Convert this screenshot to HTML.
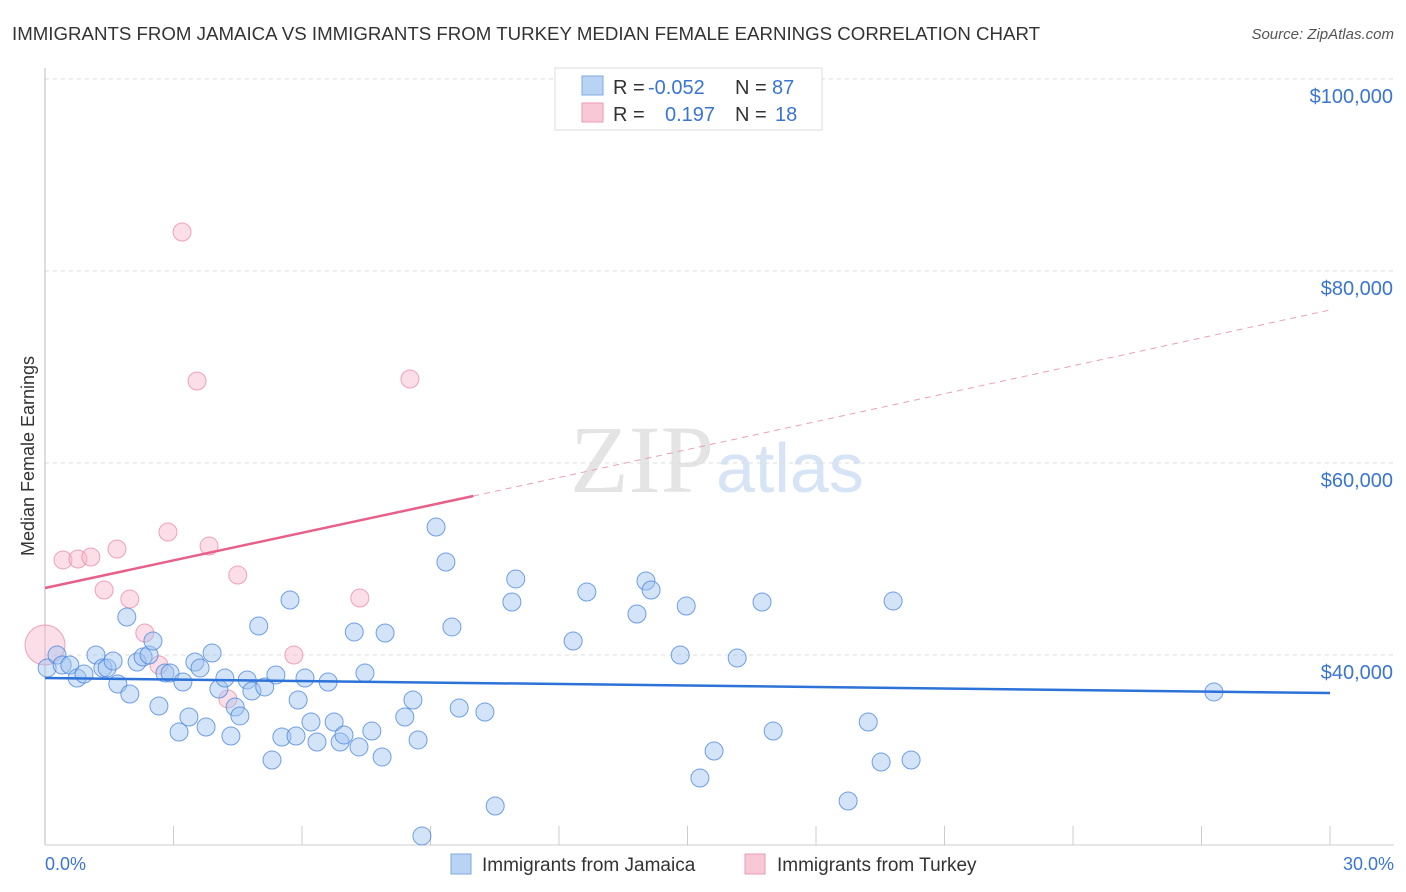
<!DOCTYPE html>
<html><head><meta charset="utf-8"><style>
body{margin:0;background:#fff;font-family:"Liberation Sans",sans-serif}
svg{display:block}
</style></head><body>
<svg id="c" width="1406" height="892" xmlns="http://www.w3.org/2000/svg">
<text x="12" y="40" font-size="18" fill="#333" textLength="1028" lengthAdjust="spacingAndGlyphs">IMMIGRANTS FROM JAMAICA VS IMMIGRANTS FROM TURKEY MEDIAN FEMALE EARNINGS CORRELATION CHART</text>
<text x="1394" y="39" font-size="15" fill="#555" font-style="italic" text-anchor="end">Source: ZipAtlas.com</text>
<text x="714" y="492" font-size="96" fill="#e4e4e4" text-anchor="end" font-family="Liberation Serif,serif">ZIP</text>
<text x="716" y="492" font-size="70" fill="#d6e4f5">atlas</text>
<g id="grid"></g>
<line x1="45" y1="68" x2="45" y2="845" stroke="#bbb"/>
<line x1="45" y1="845" x2="1394" y2="845" stroke="#ccc"/>
<text x="34" y="456" font-size="18" fill="#333" transform="rotate(-90 34 456)" text-anchor="middle">Median Female Earnings</text>
<text x="45" y="870" font-size="18" fill="#3a75d0">0.0%</text>
<text x="1394" y="870" font-size="18" fill="#3a75d0" text-anchor="end">30.0%</text>
<g id="pts"></g>
<g id="trend"></g>
<g>
<rect x="555" y="68" width="267" height="62" fill="#fff" stroke="#ddd"/>
<rect x="582" y="76" width="21" height="19" fill="#b9d3f5" stroke="#7fa8e0"/>
<rect x="582" y="103" width="21" height="19" fill="#f9c8d6" stroke="#eb9ab2"/>
<text y="94" font-size="20" fill="#333"><tspan x="613">R = </tspan><tspan x="648" fill="#3a75d0">-0.052</tspan><tspan x="735">N = </tspan><tspan x="772" fill="#3a75d0">87</tspan></text>
<text y="121" font-size="20" fill="#333"><tspan x="613">R = </tspan><tspan x="665" fill="#3a75d0">0.197</tspan><tspan x="735">N = </tspan><tspan x="775" fill="#3a75d0">18</tspan></text>
</g>
<g>
<rect x="451" y="854" width="20" height="20" fill="#b9d3f5" stroke="#7fa8e0"/>
<text x="482" y="871" font-size="19" fill="#333">Immigrants from Jamaica</text>
<rect x="745" y="854" width="20" height="20" fill="#f9c8d6" stroke="#eb9ab2"/>
<text x="777" y="871" font-size="19" fill="#333">Immigrants from Turkey</text>
</g>
</svg>
<script>
const yTicks=[40000,60000,80000,100000];
const yTickLabels=["$40,000","$60,000","$80,000","$100,000"];
const jamaicaX=[0.05,0.28,0.4,0.58,0.75,0.91,1.19,1.35,1.45,1.59,1.7,1.91,1.98,2.15,2.29,2.43,2.52,2.66,2.8,2.92,3.13,3.22,3.36,3.5,3.62,3.76,3.9,4.06,4.2,4.34,4.44,4.55,4.72,4.83,4.99,5.13,5.3,5.39,5.53,5.72,5.86,5.91,6.07,6.21,6.35,6.61,6.75,6.89,6.98,7.22,7.33,7.47,7.63,7.87,7.94,8.4,8.59,8.71,8.8,9.13,9.36,9.5,9.67,10.27,10.51,10.9,10.99,12.33,12.65,13.82,14.03,14.15,14.83,14.97,15.29,15.62,16.16,16.74,17.0,18.75,19.22,19.52,19.8,20.22,27.29];
const jamaicaY=[38650,40000,38960,38960,37600,38020,40000,38650,38650,39380,36980,43960,35940,39270,39790,40000,41460,34690,38130,38130,31980,37190,33540,39270,38650,32500,40210,36460,37600,31560,34580,33650,37400,36250,43020,36670,29060,37920,31460,45730,31560,35310,37600,33020,30940,37190,33020,30940,31670,42400,30420,38130,32080,29380,42290,33540,35310,31150,21150,53330,49690,42920,34480,34060,24270,45520,47920,41460,46560,44270,47710,46770,40000,45100,27190,30000,39690,45520,32080,24790,33020,28850,45620,29060,36150];
const turkeyX=[0,0.42,0.77,1.07,1.38,1.68,1.98,2.33,2.66,2.87,3.2,3.55,3.83,4.27,4.5,5.81,7.35,8.52];
const turkeyY=[41040,49900,50000,50210,46770,51040,45830,42290,38960,52810,84060,68540,51350,35420,48330,40000,45940,68750];
const jamTrend=[0,37600,30,36040];
const turTrend=[0,46980,10,56560,30,75940];
const NS="http://www.w3.org/2000/svg";
const X=v=>45+v*1285/30, Y=v=>655-(v-40000)*192/20000;
function mk(t,a,p){const e=document.createElementNS(NS,t);for(const k in a)e.setAttribute(k,a[k]);p.appendChild(e);return e;}
const grid=document.getElementById('grid');
yTicks.forEach((t,i)=>{
 const l=mk('line',{x1:45,x2:1394,y1:Y(t),y2:Y(t),stroke:'#ddd','stroke-dasharray':'4,4'},grid);
 
 
 const tx=mk('text',{x:1393,y:Y(t)+24,'font-size':20,fill:'#3a75d0','text-anchor':'end'},grid);
 tx.textContent=yTickLabels[i];
 
 
});
for(let i=1;i<=10;i++){
 const x=X(i*3);
 const l=mk('line',{x1:x,x2:x,y1:826,y2:845,stroke:'#ccc'},grid);
 
 
}
const pts=document.getElementById('pts');
turkeyX.forEach((v,i)=>{
 const c=mk('circle',{cx:X(v),cy:Y(turkeyY[i]),r:i==0?20:9,fill:'rgba(247,182,201,0.45)',stroke:'rgba(232,130,160,0.7)','stroke-width':1},pts);
 
 
});
jamaicaX.forEach((v,i)=>{
 const c=mk('circle',{cx:X(v),cy:Y(jamaicaY[i]),r:9,fill:'rgba(160,196,240,0.45)',stroke:'rgba(70,130,220,0.75)','stroke-width':1},pts);
 
 
});
const tr=document.getElementById('trend');
const jl=mk('line',{x1:X(jamTrend[0]),y1:Y(jamTrend[1]),x2:X(jamTrend[2]),y2:Y(jamTrend[3]),stroke:'#2d72d8','stroke-width':2.5},tr);


const ts=mk('line',{x1:X(turTrend[0]),y1:Y(turTrend[1]),x2:X(turTrend[2]),y2:Y(turTrend[3]),stroke:'#e8608a','stroke-width':2.5},tr);


const td=mk('line',{x1:X(turTrend[2]),y1:Y(turTrend[3]),x2:X(turTrend[4]),y2:Y(turTrend[5]),stroke:'#e8a0b4','stroke-width':1,'stroke-dasharray':'6,5'},tr);


</script>
</body></html>
